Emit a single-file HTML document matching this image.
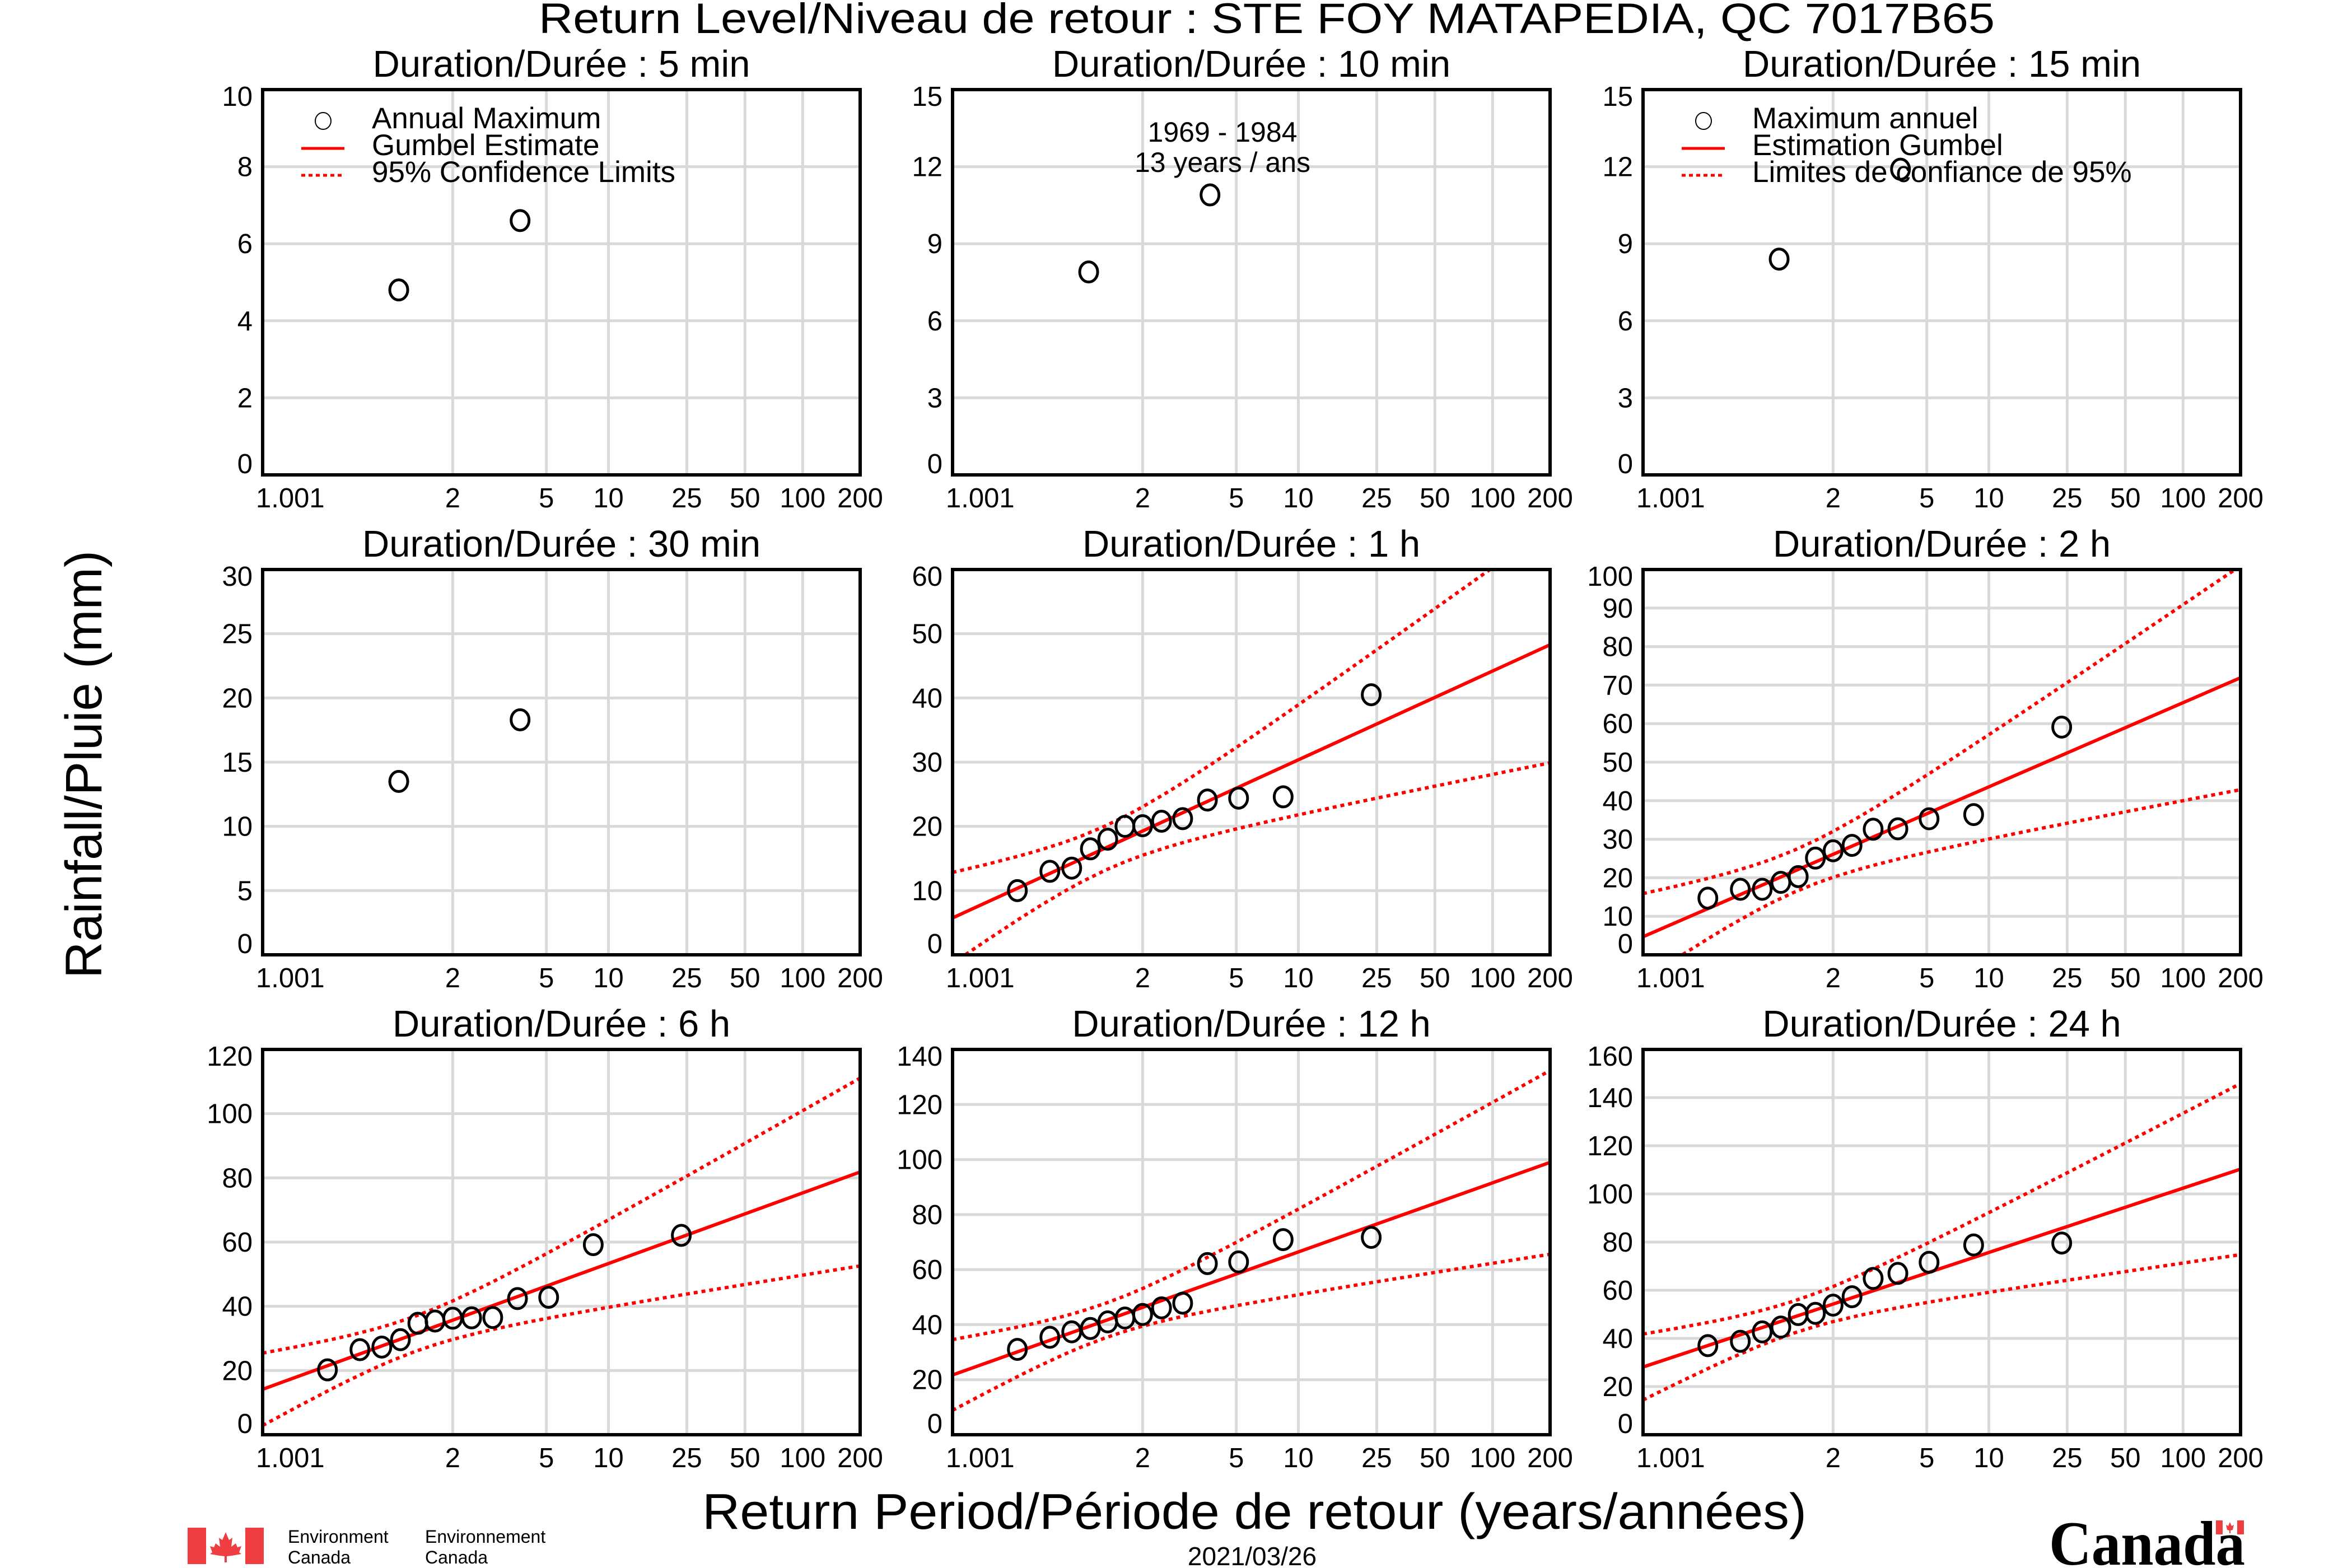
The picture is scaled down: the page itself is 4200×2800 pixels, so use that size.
<!DOCTYPE html>
<html><head><meta charset="utf-8"><title>Return Level - STE FOY MATAPEDIA</title>
<style>html,body{margin:0;padding:0;background:#fff}svg{display:block}text{font-family:"Liberation Sans",Arial,sans-serif;fill:#000}</style>
</head><body>
<svg id="chart" xmlns="http://www.w3.org/2000/svg" width="4200" height="2800" viewBox="0 0 4200 2800">
<rect x="0" y="0" width="4200" height="2800" fill="#fff"/>
<text x="2262" y="59" font-size="76" text-anchor="middle" textLength="2600" lengthAdjust="spacingAndGlyphs">Return Level/Niveau de retour  : STE FOY MATAPEDIA, QC  7017B65</text>
<text transform="translate(181,1365) rotate(-90)" font-size="92" text-anchor="middle" textLength="764" lengthAdjust="spacingAndGlyphs">Rainfall/Pluie (mm)</text>
<text x="2240" y="2730" font-size="90" text-anchor="middle" textLength="1972" lengthAdjust="spacingAndGlyphs">Return Period/Période de retour (years/années)</text>
<text x="2236" y="2795" font-size="46" text-anchor="middle">2021/03/26</text>
<g>
<rect x="335" y="2728" width="33" height="65" fill="#ef3e42"/>
<rect x="438" y="2728" width="33" height="65" fill="#ef3e42"/>
<path d="M403 2736 L409 2750 L415 2746 L413 2762 L421 2756 L424 2763 L431 2761 L427 2772 L431 2775 L414 2778 L405 2779 L405 2790 L401 2790 L401 2779 L392 2778 L375 2775 L379 2772 L375 2761 L382 2763 L385 2756 L393 2762 L391 2746 L397 2750 Z" fill="#ef3e42"/>
<text x="514" y="2755" font-size="32">Environment</text>
<text x="514" y="2792" font-size="32">Canada</text>
<text x="759" y="2755" font-size="32">Environnement</text>
<text x="759" y="2792" font-size="32">Canada</text>
</g>
<g>
<text x="3659" y="2794" font-size="112" font-weight="bold" textLength="350" lengthAdjust="spacingAndGlyphs" style="font-family:'Liberation Serif','Times New Roman',serif">Canada</text>
<rect x="3957" y="2715" width="12" height="25" fill="#ef3e42"/>
<rect x="3995" y="2715" width="12" height="25" fill="#ef3e42"/>
<path d="M3982 2718 L3985 2725 L3989 2723 L3987 2732 L3983 2733 L3983 2738 L3981 2738 L3981 2733 L3977 2732 L3975 2723 L3979 2725 Z" fill="#ef3e42"/>
</g>
</svg>
<script>
// ---- data: annual maxima (mm) per duration ----
const d5min = [4.8, 6.6];
const d10min = [7.9, 10.9];
const d15min = [8.4, 11.9];
const d30min = [13.5, 18.3];
const d1h = [10.0, 13.0, 13.5, 16.5, 18.0, 20.0, 20.1, 20.8, 21.2, 24.1, 24.4, 24.6, 40.5];
const d2h = [14.7, 17.0, 17.0, 18.8, 20.3, 25.1, 27.0, 28.4, 32.6, 32.7, 35.3, 36.4, 59.1];
const d6h = [20.2, 26.5, 27.3, 29.6, 34.7, 35.4, 36.3, 36.4, 36.5, 42.4, 42.8, 59.2, 62.1];
const d12h = [31.0, 35.4, 37.4, 38.6, 41.0, 42.4, 43.7, 46.1, 47.8, 62.2, 62.8, 70.9, 71.7];
const d24h = [37.0, 38.8, 42.7, 44.7, 49.9, 50.4, 53.8, 57.3, 64.9, 67.0, 71.6, 78.8, 79.6];
const panelTitles = ["5 min", "10 min", "15 min", "30 min", "1 h", "2 h", "6 h", "12 h", "24 h"];
const yMaxes = [10, 15, 15, 30, 60, 100, 120, 140, 160];
const ySteps = [2, 3, 3, 5, 10, 10, 20, 20, 20];
const xTickLabels = ["1.001", "2", "5", "10", "25", "50", "100", "200"];
const xTickValues = [1.001, 2, 5, 10, 25, 50, 100, 200];
const curveT = [1.001,1.01,1.05,1.1,1.2,1.3,1.5,1.75,2,2.5,3,4,5,7,10,15,20,25,30,40,50,75,100,150,200];

const allData = [d5min, d10min, d15min, d30min, d1h, d2h, d6h, d12h, d24h];
const NS = "http://www.w3.org/2000/svg";
const svg = document.getElementById("chart");
const colX = [469, 1701, 2934], rowY = [160, 1017, 1874], PW = 1067, PH = 688;

function red(T){ return -Math.log(-Math.log(1 - 1/T)); }
const yLo = red(1.001), yHi = red(200);
function mk(tag, attrs, parent){ const e = document.createElementNS(NS, tag); for (const k in attrs) e.setAttribute(k, attrs[k]); (parent||svg).appendChild(e); return e; }

allData.forEach((data, i) => {
  const L = colX[i % 3], T = rowY[Math.floor(i / 3)];
  const ymax = yMaxes[i], step = ySteps[i];
  const xs = t => L + (red(t) - yLo) / (yHi - yLo) * PW;
  const ys = v => T + PH - v / ymax * PH;
  const g = mk("g", {});
  
  
  const cp = mk("clipPath", {id: "clip" + i}, g);
  mk("rect", {x: L, y: T, width: PW, height: PH}, cp);
  const title = mk("text", {x: L + PW/2, y: T - 23, "font-size": 67, "text-anchor": "middle"}, g);
  title.textContent = "Duration/Durée : " + panelTitles[i];
  
  
  xTickValues.forEach((tv, k) => {
    if (k > 0 && k < xTickValues.length - 1) {
      const gl = mk("line", {x1: xs(tv), x2: xs(tv), y1: T, y2: T + PH, stroke: "#d9d9d9", "stroke-width": 5}, g);
      
      
    }
    const lab = mk("text", {x: k === 0 ? L - 12 : xs(tv), y: T + PH + 58, "font-size": 49, "text-anchor": k === 0 ? "start" : "middle"}, g);
    lab.textContent = xTickLabels[k];
    
    
  });
  for (let v = 0; v <= ymax + 1e-9; v += step) {
    if (v > 0 && v < ymax) {
      const gl = mk("line", {x1: L, x2: L + PW, y1: ys(v), y2: ys(v), stroke: "#d9d9d9", "stroke-width": 5}, g);
      
      
    }
    let by = ys(v) + 17;
    by = Math.max(by, T + 29); by = Math.min(by, T + PH - 3);
    const lab = mk("text", {x: L - 18, y: by, "font-size": 49, "text-anchor": "end"}, g);
    lab.textContent = String(Math.round(v));
    
    
  }
  const n = data.length;
  if (n >= 10) {
    const mean = data.reduce((a, b) => a + b, 0) / n;
    const sd = Math.sqrt(data.reduce((a, b) => a + (b - mean) * (b - mean), 0) / (n - 1));
    const K = t => Math.sqrt(6) / Math.PI * (red(t) - 0.5772);
    const est = t => mean + K(t) * sd;
    const half = t => { const k = K(t); return 1.96 * sd / Math.sqrt(n) * Math.sqrt(1 + 1.1396 * k + 1.1 * k * k); };
    const cg = mk("g", {"clip-path": "url(#clip" + i + ")"}, g);
    const line = mk("line", {x1: xs(1.001), y1: ys(est(1.001)), x2: xs(200), y2: ys(est(200)), stroke: "#ff0000", "stroke-width": 6}, cg);
    
    
    const up = mk("polyline", {points: curveT.map(t => xs(t) + "," + ys(est(t) + half(t))).join(" "), fill: "none", stroke: "#ff0000", "stroke-width": 6, "stroke-dasharray": "7 7"}, cg);
    
    
    const lo = mk("polyline", {points: curveT.map(t => xs(t) + "," + ys(est(t) - half(t))).join(" "), fill: "none", stroke: "#ff0000", "stroke-width": 6, "stroke-dasharray": "7 7"}, cg);
    
    
  }
  const sorted = data.slice().sort((a, b) => b - a);
  sorted.forEach((v, m) => {
    const Tr = (n + 0.12) / (m + 1 - 0.44);
    const c = mk("ellipse", {cx: xs(Tr), cy: ys(v), rx: 16, ry: 18, fill: "none", stroke: "#000", "stroke-width": 5}, g);
    
    
  });
  const fr = mk("rect", {x: L, y: T, width: PW, height: PH, fill: "none", stroke: "#000", "stroke-width": 6}, g);
  
  

  if (i === 0 || i === 2) {
    const labels = i === 0 ? ["Annual Maximum", "Gumbel Estimate", "95% Confidence Limits"] : ["Maximum annuel", "Estimation Gumbel", "Limites de confiance de 95%"];
    const lg = mk("g", {}, g);
    
    
    mk("ellipse", {cx: L + 108, cy: T + 56, rx: 14, ry: 15, fill: "none", stroke: "#000", "stroke-width": 2}, lg);
    mk("line", {x1: L + 69, x2: L + 146, y1: T + 105, y2: T + 105, stroke: "#ff0000", "stroke-width": 5}, lg);
    mk("line", {x1: L + 69, x2: L + 146, y1: T + 153, y2: T + 153, stroke: "#ff0000", "stroke-width": 5, "stroke-dasharray": "7 6"}, lg);
    labels.forEach((s, k) => {
      const t = mk("text", {x: L + 195, y: T + 69 + 48 * k, "font-size": 53}, lg);
      t.textContent = s;
      
      
    });
  }
  if (i === 1) {
    const a1 = mk("text", {x: 2183, y: 253, "font-size": 50, "text-anchor": "middle"}, g);
    a1.textContent = "1969 - 1984";
    
    
    const a2 = mk("text", {x: 2183, y: 307, "font-size": 50, "text-anchor": "middle"}, g);
    a2.textContent = "13 years / ans";
    
    
  }
});
</script>
</body></html>
